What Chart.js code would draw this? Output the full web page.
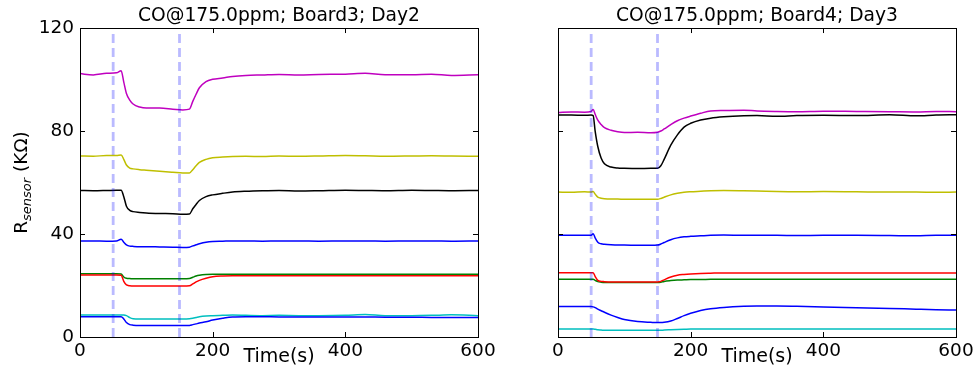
<!DOCTYPE html>
<html>
<head>
<meta charset="utf-8">
<script src="https://cdn.jsdelivr.net/npm/chart.js@4.4.1/dist/chart.umd.min.js"></script>
<style>
  html, body { margin: 0; padding: 0; background: #fff; }
  #wrap { position: relative; width: 977px; height: 368px; }
  #wrap canvas { position: absolute; left: 0; top: 0; }
</style>
</head>
<body>
<div id="wrap">
  <canvas id="left" width="977" height="368"></canvas>
  <canvas id="right" width="977" height="368"></canvas>
</div>
<script>
// axis ticks and gas on/off markers
const xTicks = [0, 200, 400, 600];
const yTicks = [0, 40, 80, 120];
const markerTimes = [50, 150];

// Board3, Day2
const leftTime = [0, 20, 40, 55, 62, 66, 70, 75, 80, 90, 100, 120, 140, 155, 165, 170, 175, 180, 190, 200, 215, 230, 250, 275, 300, 330, 360, 400, 430, 460, 500, 530, 560, 600];
const leftBlue1 = [37.3, 37.3, 37.2, 37.3, 38.0, 36.8, 35.8, 35.3, 35.2, 35.1, 35.1, 35.0, 34.9, 34.8, 34.9, 35.4, 35.8, 36.2, 36.8, 37.1, 37.2, 37.3, 37.3, 37.2, 37.3, 37.3, 37.2, 37.3, 37.3, 37.2, 37.3, 37.3, 37.2, 37.3];
const leftGreen = [24.6, 24.6, 24.6, 24.6, 24.5, 23.3, 22.8, 22.7, 22.6, 22.6, 22.6, 22.6, 22.6, 22.6, 22.7, 23.2, 23.7, 24.0, 24.3, 24.4, 24.4, 24.4, 24.4, 24.4, 24.4, 24.4, 24.4, 24.4, 24.4, 24.4, 24.4, 24.4, 24.4, 24.4];
const leftRed = [24.1, 24.1, 24.1, 24.1, 24.0, 21.6, 20.2, 19.9, 19.8, 19.8, 19.8, 19.8, 19.8, 19.8, 19.9, 20.6, 21.4, 22.0, 22.8, 23.4, 23.7, 23.8, 23.8, 23.8, 23.8, 23.8, 23.8, 23.8, 23.8, 23.8, 23.8, 23.8, 23.8, 23.8];
const leftCyan = [8.5, 8.5, 8.5, 8.5, 8.5, 8.5, 8.3, 7.5, 7.1, 7.0, 7.0, 7.0, 7.0, 7.0, 7.1, 7.3, 7.6, 7.9, 8.2, 8.3, 8.4, 8.5, 8.4, 8.3, 8.4, 8.3, 8.3, 8.4, 8.7, 8.3, 8.3, 8.4, 8.6, 8.3];
const leftMagenta = [102.3, 101.8, 102.4, 102.6, 103.4, 99.0, 94.6, 92.0, 90.5, 89.3, 88.9, 88.9, 88.5, 88.2, 88.5, 91.5, 94.3, 96.8, 99.2, 100.1, 100.6, 101.2, 101.6, 101.8, 102.0, 101.8, 102.0, 102.1, 102.4, 101.9, 101.9, 102.1, 101.6, 101.9];
const leftYellow = [70.3, 70.2, 70.5, 70.5, 70.7, 69.0, 66.8, 65.6, 65.3, 65.0, 64.8, 64.4, 64.0, 63.7, 63.7, 65.0, 66.5, 67.8, 69.0, 69.6, 69.9, 70.1, 70.2, 70.1, 70.3, 70.2, 70.3, 70.5, 70.4, 70.2, 70.3, 70.4, 70.3, 70.2];
const leftBlack = [56.9, 56.8, 56.9, 57.0, 57.0, 54.5, 50.8, 49.2, 48.7, 48.4, 48.2, 48.0, 47.9, 47.7, 47.8, 49.8, 51.5, 53.0, 54.5, 55.2, 55.8, 56.3, 56.6, 56.8, 56.9, 56.7, 56.8, 57.0, 56.9, 56.8, 57.0, 56.9, 56.8, 56.9];
const leftBlue2 = [7.9, 7.9, 7.9, 7.9, 7.9, 7.0, 5.6, 4.8, 4.6, 4.5, 4.5, 4.5, 4.5, 4.5, 4.5, 4.8, 5.1, 5.4, 5.9, 6.6, 7.3, 7.8, 7.9, 7.9, 7.8, 7.8, 7.8, 7.8, 7.8, 7.7, 7.7, 7.6, 7.6, 7.6];

// Board4, Day3
const rightTime = [0, 20, 40, 50, 53, 56, 60, 65, 70, 80, 90, 100, 120, 140, 150, 155, 160, 170, 180, 190, 200, 215, 230, 250, 280, 300, 330, 360, 400, 450, 500, 540, 570, 600];
const rightBlue1 = [39.5, 39.5, 39.5, 39.5, 40.1, 38.5, 36.8, 36.2, 36.0, 35.8, 35.7, 35.7, 35.6, 35.6, 35.7, 36.1, 36.7, 37.8, 38.5, 38.9, 39.1, 39.3, 39.5, 39.6, 39.5, 39.5, 39.5, 39.4, 39.5, 39.5, 39.4, 39.3, 39.5, 39.5];
const rightGreen = [22.4, 22.4, 22.4, 22.4, 22.4, 22.0, 21.5, 21.3, 21.2, 21.2, 21.2, 21.2, 21.2, 21.2, 21.2, 21.3, 21.6, 21.9, 22.1, 22.2, 22.3, 22.3, 22.4, 22.4, 22.4, 22.4, 22.4, 22.4, 22.4, 22.4, 22.4, 22.4, 22.4, 22.4];
const rightRed = [25.0, 25.0, 25.0, 25.0, 25.0, 23.5, 22.0, 21.6, 21.5, 21.4, 21.4, 21.4, 21.4, 21.4, 21.4, 21.6, 22.2, 23.3, 24.0, 24.3, 24.5, 24.7, 24.8, 24.9, 24.9, 24.9, 24.9, 24.9, 24.9, 24.9, 24.9, 24.9, 24.9, 24.9];
const rightCyan = [3.1, 3.1, 3.1, 3.1, 3.1, 3.0, 2.8, 2.7, 2.6, 2.6, 2.6, 2.6, 2.6, 2.6, 2.6, 2.6, 2.7, 2.8, 2.9, 3.0, 3.1, 3.1, 3.1, 3.1, 3.1, 3.1, 3.1, 3.1, 3.1, 3.1, 3.1, 3.1, 3.1, 3.1];
const rightMagenta = [87.2, 87.4, 87.3, 87.6, 88.4, 86.5, 84.2, 82.5, 81.3, 80.3, 79.7, 79.4, 79.5, 79.3, 79.5, 80.0, 80.8, 82.5, 84.0, 85.0, 85.8, 86.9, 87.8, 88.0, 88.1, 87.8, 87.6, 87.5, 87.7, 87.6, 87.5, 87.4, 87.6, 87.5];
const rightYellow = [56.3, 56.2, 56.4, 56.3, 56.5, 55.5, 54.3, 53.9, 53.7, 53.6, 53.6, 53.5, 53.5, 53.5, 53.5, 53.8, 54.3, 55.2, 55.8, 56.2, 56.4, 56.6, 56.8, 56.9, 56.8, 56.7, 56.5, 56.4, 56.5, 56.4, 56.3, 56.3, 56.2, 56.3];
const rightBlack = [86.2, 86.2, 86.1, 86.2, 86.0, 80.0, 74.0, 69.5, 67.3, 66.0, 65.6, 65.5, 65.4, 65.5, 65.5, 66.5, 69.0, 74.5, 78.5, 81.5, 83.0, 84.3, 85.0, 85.5, 85.9, 86.0, 85.7, 86.0, 86.1, 86.0, 86.3, 85.9, 86.2, 86.3];
const rightBlue2 = [11.8, 11.8, 11.8, 11.8, 11.7, 11.4, 10.8, 10.2, 9.6, 8.5, 7.6, 6.8, 6.0, 5.7, 5.6, 5.6, 5.7, 6.2, 7.2, 8.3, 9.2, 10.3, 11.0, 11.5, 11.9, 12.0, 12.0, 11.9, 11.7, 11.4, 11.1, 10.8, 10.6, 10.5];

// matplotlib classic cycle: b g r c m y k b
const lineColors = ['#0000ff', '#008000', '#ff0000', '#00bfbf', '#bf00bf', '#bfbf00', '#000000', '#0000ff'];

const FONT = '"DejaVu Sans", "Liberation Sans", sans-serif';

function series(time, lists) {
    const sets = lists.map((vals, i) => ({
        data: time.map((t, j) => ({ x: t, y: vals[j] })),
        borderColor: lineColors[i],
        borderWidth: 1.5,
        pointRadius: 0,
        cubicInterpolationMode: 'monotone',
        order: lists.length - i + 2
    }));
    markerTimes.forEach(t => {
        sets.push({
            data: [{ x: t, y: 0 }, { x: t, y: 120 }],
            borderColor: 'rgba(0, 0, 255, 0.27)',
            borderWidth: 2.8,
            borderDash: [9, 5],
            pointRadius: 0,
            order: 1
        });
    });
    return sets;
}

// box, inward ticks, x title and (left only) y title
const framePlugin = {
    id: 'frame',
    afterDraw(chart, args, opts) {
        const { ctx, chartArea: a } = chart;
        const x = chart.scales.x, y = chart.scales.y;
        ctx.save();
        ctx.strokeStyle = '#000';
        ctx.lineWidth = 1;
        ctx.strokeRect(Math.round(a.left) + 0.5, Math.round(a.top) + 0.5,
            Math.round(a.right - a.left), Math.round(a.bottom - a.top));
        ctx.beginPath();
        xTicks.forEach(v => {
            const px = Math.round(x.getPixelForValue(v)) + 0.5;
            ctx.moveTo(px, a.bottom); ctx.lineTo(px, a.bottom - 5);
            ctx.moveTo(px, a.top); ctx.lineTo(px, a.top + 5);
        });
        yTicks.forEach(v => {
            const py = Math.round(y.getPixelForValue(v)) + 0.5;
            ctx.moveTo(a.left, py); ctx.lineTo(a.left + 5, py);
            ctx.moveTo(a.right, py); ctx.lineTo(a.right - 5, py);
        });
        ctx.stroke();

        ctx.fillStyle = '#000';
        ctx.font = '19px ' + FONT;
        ctx.textAlign = 'center';
        ctx.textBaseline = 'alphabetic';
        ctx.fillText('Time(s)', (a.left + a.right) / 2, 362);

        if (opts.yTitle) {
            const big = '18.5px ' + FONT, small = 'italic 13px ' + FONT;
            ctx.font = big; const wR = ctx.measureText('R').width;
            const wU = ctx.measureText(' (KΩ)').width;
            ctx.font = small; const wS = ctx.measureText('sensor').width;
            const total = wR + wS + wU;
            ctx.translate(27, (a.top + a.bottom) / 2);
            ctx.rotate(-Math.PI / 2);
            ctx.textAlign = 'left';
            let cx = -total / 2;
            ctx.font = big; ctx.fillText('R', cx, 0); cx += wR;
            ctx.font = small; ctx.fillText('sensor', cx, 4); cx += wS;
            ctx.font = big; ctx.fillText(' (KΩ)', cx, 0);
        }
        ctx.restore();
    }
};

function makeChart(id, title, time, lists, yWidth, padRight, showY) {
    return new Chart(document.getElementById(id), {
        type: 'line',
        data: { datasets: series(time, lists) },
        plugins: [framePlugin],
        options: {
            responsive: false,
            animation: false,
            devicePixelRatio: 1,
            layout: { padding: { left: 0, right: padRight, top: 0, bottom: 0 } },
            plugins: {
                legend: { display: false },
                tooltip: { enabled: false },
                frame: { yTitle: showY },
                title: {
                    display: true,
                    text: title,
                    fullSize: false,
                    color: '#000',
                    font: { family: FONT, size: 18.7, weight: 'normal', lineHeight: 1.2 },
                    padding: { top: 5, bottom: 0.6 }
                }
            },
            scales: {
                x: {
                    type: 'linear', min: 0, max: 600,
                    grid: { display: false, drawTicks: false, tickLength: 0 },
                    border: { display: false },
                    ticks: { stepSize: 200, color: '#000', padding: 3, maxRotation: 0,
                        font: { family: FONT, size: 18.5 } },
                    afterFit(s) { s.height = 31; }
                },
                y: {
                    min: 0, max: 120,
                    grid: { display: false, drawTicks: false, tickLength: 0 },
                    border: { display: false },
                    ticks: { display: showY, stepSize: 40, color: '#000', padding: 6,
                        font: { family: FONT, size: 18.5 } },
                    afterFit(s) { s.width = yWidth; }
                }
            }
        }
    });
}

makeChart('left', 'CO@175.0ppm; Board3; Day2', leftTime,
    [leftBlue1, leftGreen, leftRed, leftCyan, leftMagenta, leftYellow, leftBlack, leftBlue2],
    80, 977 - 478, true);
makeChart('right', 'CO@175.0ppm; Board4; Day3', rightTime,
    [rightBlue1, rightGreen, rightRed, rightCyan, rightMagenta, rightYellow, rightBlack, rightBlue2],
    558, 977 - 956, false);
</script>
</body>
</html>
